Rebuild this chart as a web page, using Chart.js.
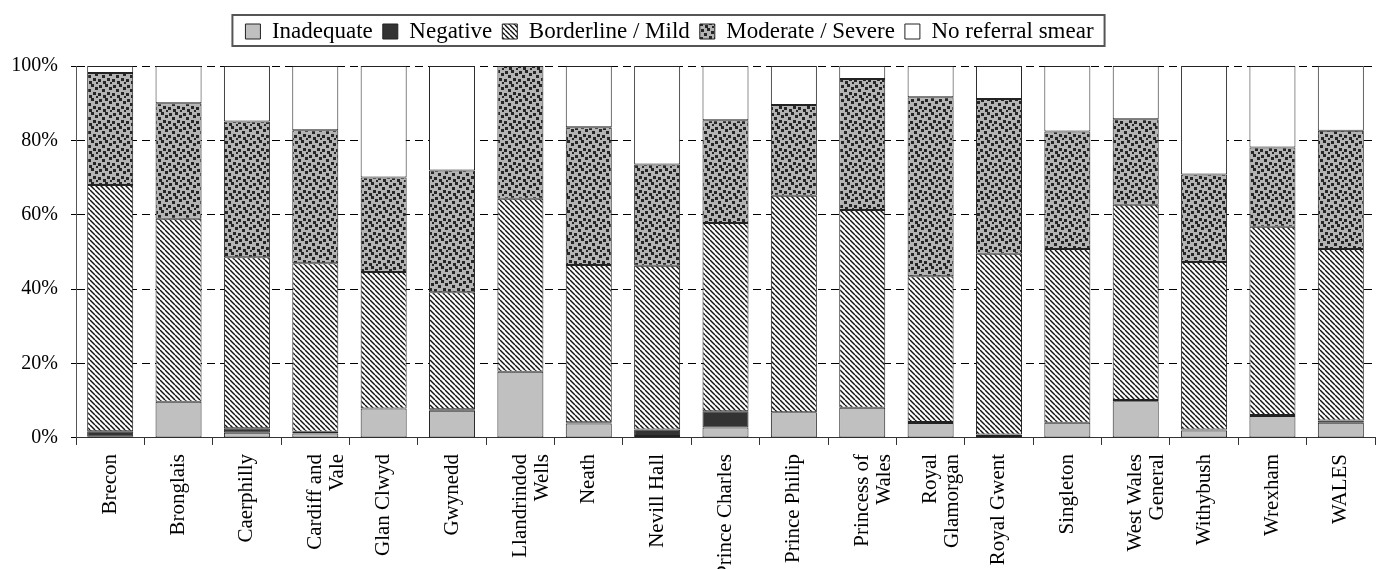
<!DOCTYPE html>
<html><head><meta charset="utf-8">
<script src="https://cdn.jsdelivr.net/npm/chart.js@4"></script>
<style>html,body{margin:0;padding:0;background:#fff;overflow:hidden}#wrap{width:1385px;height:586px;position:relative}</style>
</head><body><div id="wrap"><canvas id="c"></canvas></div>
<script>
const categories = ["Brecon","Bronglais","Caerphilly",["Cardiff and","Vale"],"Glan Clwyd","Gwynedd",["Llandrindod","Wells"],"Neath","Nevill Hall","Prince Charles","Prince Philip",["Princess of","Wales"],["Royal","Glamorgan"],"Royal Gwent","Singleton",["West Wales","General"],"Withybush","Wrexham","WALES"];
const seriesNames = ["Inadequate","Negative","Borderline / Mild","Moderate / Severe","No referral smear"];
const inadequate = [0.3,9.7,1.4,1.2,7.9,7.3,17.8,3.9,0.5,2.8,6.9,8.1,4.0,0.5,4.1,9.9,2.0,5.9,4.1];
const negative   = [1.5,0,1.2,0.5,0,0.4,0,0.3,1.8,4.4,0,0,0.3,0.4,0,0.3,0.3,0.3,0.6];
const borderline = [66.2,49.2,46.0,45.3,36.7,31.5,46.5,42.3,44.0,50.6,58.2,53.2,39.2,48.6,46.7,52.5,45.0,50.6,46.1];
const moderate   = [30.1,31.1,36.5,35.7,25.4,32.7,35.7,37.0,27.2,27.6,24.4,35.2,48.1,41.6,31.6,23.0,23.5,21.3,31.8];
const noReferral = [1.9,10.0,14.9,17.3,30.0,28.1,0,16.5,26.5,14.6,10.5,3.5,8.4,8.9,17.6,14.3,29.2,21.9,17.4];
const yTicks = [0,20,40,60,80,100];

function makeStripes(){
  const s=5, c=document.createElement('canvas'); c.width=s; c.height=s;
  const g=c.getContext('2d'); g.fillStyle='#fff'; g.fillRect(0,0,s,s);
  g.strokeStyle='#111'; g.lineWidth=1.4;
  for(let k=-1;k<=1;k++){ g.beginPath(); g.moveTo(k*s,0); g.lineTo(k*s+s,s); g.stroke(); }
  return g.createPattern(c,'repeat');
}
function makeDots(){
  const s=14, c=document.createElement('canvas'); c.width=s; c.height=s;
  const g=c.getContext('2d'); g.fillStyle='#b4b4b4'; g.fillRect(0,0,s,s);
  g.fillStyle='#262626';
  [[1,1],[7,0],[11,3],[4,5],[9,8],[0,9],[5,11],[12,12]].forEach(([x,y])=>g.fillRect(x,y,3,3));
  return g.createPattern(c,'repeat');
}
const fills = ['#c0c0c0','#333333',makeStripes(),makeDots(),'#ffffff'];
const values = [inadequate,negative,borderline,moderate,noReferral];

const legendFrame = {
  id:'legendFrame',
  beforeLayout(chart){
    const lg=chart.legend;
    if(lg && !lg._patched){ const f=lg.fit; lg.fit=function(){ f.call(this); this.height+=13; }; lg._patched=true; }
  },
  afterLayout(chart){ const lg=chart.legend; if(lg){ lg.left-=18; lg.right-=18; } },
  afterDraw(chart){
    const lg=chart.legend; if(!lg||!lg.lineWidths) return;
    const pad=lg.options.labels.padding, lw=lg.lineWidths[0];
    const x0=(lg.left+pad+lg.right-lw)/2;
    const itemH=Math.max(lg.options.labels.font.size, lg.options.labels.boxHeight);
    const y0=lg.top+pad;
    const ctx=chart.ctx; ctx.save(); ctx.strokeStyle='#555'; ctx.lineWidth=2;
    ctx.strokeRect(x0-13, y0-5, lw-pad+24, itemH+8); ctx.restore();
  }
};

new Chart(document.getElementById('c'),{
  type:'bar',
  data:{labels:categories,datasets:seriesNames.map((n,i)=>({label:n,data:values[i],backgroundColor:fills[i],borderColor:'#222',borderWidth:1,borderSkipped:false,barPercentage:0.673,categoryPercentage:1}))},
  options:{
    responsive:true,maintainAspectRatio:false,animation:false,
    layout:{padding:{top:10,left:0,right:10,bottom:0}},
    plugins:{
      tooltip:{enabled:false},
      legend:{position:'top',labels:{font:{family:'Liberation Serif',size:23},color:'#000',boxWidth:15,boxHeight:15,padding:10}}
    },
    scales:{
      x:{stacked:true,grid:{drawOnChartArea:false,drawTicks:true,tickLength:7,color:'#333'},border:{color:'#333',width:1},
         ticks:{maxRotation:90,minRotation:90,autoSkip:false,color:'#000',padding:9,font:{family:'Liberation Serif',size:21,lineHeight:1.05}}},
      y:{stacked:true,min:0,max:100,afterBuildTicks(s){s.ticks=yTicks.map(v=>({value:v}));},
         afterFit(s){s.width=76;},
         grid:{color:'#000',tickLength:5,lineWidth:1,tickBorderDash:[]},border:{color:'#555',width:1,dash:[8,5]},
         ticks:{color:'#000',padding:13,font:{family:'Liberation Serif',size:20},callback:v=>v+'%'}}
    }
  },
  plugins:[legendFrame]
});
</script></body></html>
